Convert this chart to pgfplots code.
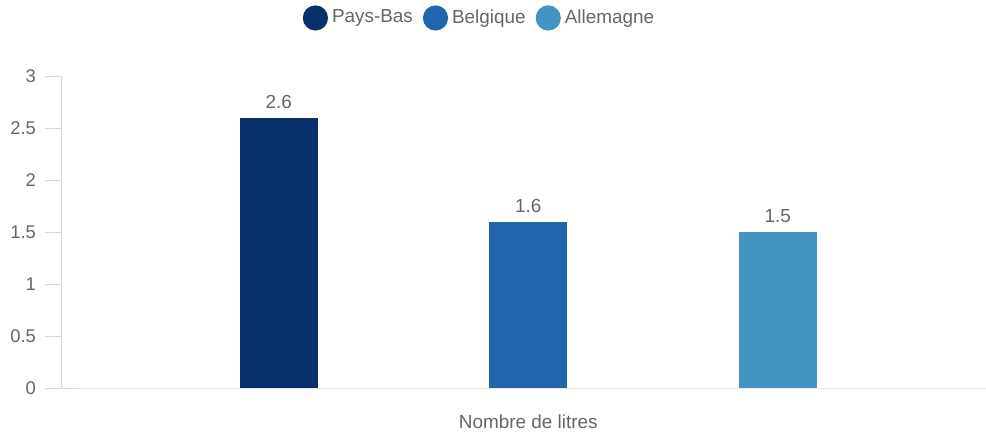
\documentclass[border=0pt]{standalone}
\usepackage{pgfplots}
\pgfplotsset{compat=1.18}
\usepackage{fontspec}
\setmainfont{Liberation Sans}
\definecolor{c1}{HTML}{08306B}
\definecolor{c2}{HTML}{2166AC}
\definecolor{c3}{HTML}{4393C3}
\definecolor{txt}{HTML}{666666}
\definecolor{axl}{HTML}{E6E6E6}
\definecolor{yax}{HTML}{D8D8D8}
\newcommand{\fs}{\fontsize{9.2}{11}\selectfont}
\newcommand{\fl}{\fontsize{9.45}{11}\selectfont}
\begin{document}
\begin{tikzpicture}[x=1pt,y=1pt]
\useasboundingbox (-30.5,-23) rectangle (462.5,194);
\begin{axis}[
  at={(0,0)}, anchor=south west,
  scale only axis, width=462.5pt, height=156pt,
  xmin=-0.872, xmax=2.834, ymin=0, ymax=3,
  ybar, bar width=39pt, bar shift=0pt,
  axis lines*=left,
  axis line style={-},
  x axis line style={draw=axl},
  y axis line style={draw=yax},
  xtick=\empty,
  ytick={0,0.5,1,1.5,2,2.5,3},
  ytick style={draw=yax},
  major tick length=8pt, tick align=outside,
  /pgf/number format/assume math mode=true,
  yticklabel style={text=txt, font=\fs, xshift=-1pt},
  xlabel={Nombre de litres},
  xlabel style={at={(axis cs:1,0)}, anchor=center, yshift=-17pt, text=txt, font=\fl},
  nodes near coords,
  every node near coord/.append style={text=txt, font=\fl, yshift=1pt},
  legend style={draw=none, fill=none, at={(axis description cs:0.4535,1.186)}, anchor=center,
    legend columns=-1, font=\fl, text=txt,
    /tikz/every even column/.append style={column sep=3pt}},
  legend image code/.code={\fill[#1] (6.25pt,0) circle (6.3pt);},
]
\addplot[fill=c1, draw=none] coordinates {(0,2.6)};
\addplot[fill=c2, draw=none] coordinates {(1,1.6)};
\addplot[fill=c3, draw=none] coordinates {(2,1.5)};
\legend{Pays-Bas, Belgique, Allemagne}
\draw[yax] (rel axis cs:0,0) -- ++(0,-7.5pt);
\end{axis}
\end{tikzpicture}
\end{document}
